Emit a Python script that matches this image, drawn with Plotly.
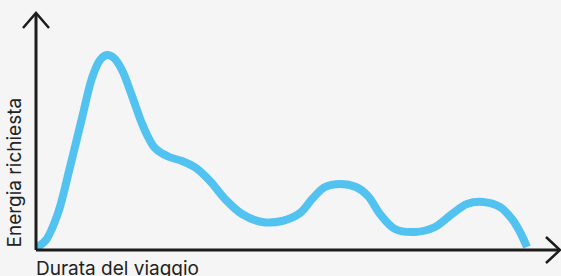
import plotly.graph_objects as go

# Data (time in % of trip, energy in % of axis height)
durata = [0, 1.91, 4.21, 6.50, 8.80, 10.71, 12.24, 13.58, 14.91, 16.44, 18.36, 20.46,
          22.75, 25.24, 27.92, 30.59, 33.27, 36.14, 39.39, 43.21, 47.04, 50.48, 52.96,
          55.26, 58.13, 61.19, 63.48, 65.77, 68.64, 72.47, 76.29, 79.54, 82.41, 85.47,
          88.72, 91.01, 92.54, 93.88]
energia = [0.85, 4.24, 15.68, 35.17, 55.93, 72.88, 80.51, 82.63, 81.36, 76.27, 65.25, 52.54,
           43.22, 39.62, 37.71, 34.75, 29.24, 21.61, 15.25, 11.86, 12.29, 15.68, 22.03,
           26.69, 27.97, 26.69, 22.88, 15.25, 8.90, 7.63, 9.75, 15.25, 19.49, 20.34,
           18.22, 13.14, 7.63, 1.27]

x_title = "Durata del viaggio"
y_title = "Energia richiesta"

W, H = 561, 276
ml, mr, mt, mb = 36, 2, 14, 26
pw, ph = W - ml - mr, H - mt - mb

fig = go.Figure()
fig.add_trace(go.Scatter(
    x=durata, y=energia, mode="lines",
    line=dict(color="#52c2f0", width=8, shape="spline", smoothing=1.0),
    hoverinfo="skip", showlegend=False, cliponaxis=False,
))

axis_col = "#1c1c1c"
def px(dx):
    return dx / pw
def py(dy):
    return dy / ph

shapes = [
    dict(type="line", xref="paper", yref="paper", x0=0, y0=0, x1=0, y1=1 - py(1),
         line=dict(color=axis_col, width=3)),
    dict(type="line", xref="paper", yref="paper", x0=0, y0=0, x1=1 + px(1), y1=0,
         line=dict(color=axis_col, width=3)),
    dict(type="path", xref="paper", yref="paper",
         path=f"M {px(-13)} {1 - py(14)} L 0 {1 + py(1)} L {px(13)} {1 - py(14)}",
         line=dict(color=axis_col, width=2.5)),
    dict(type="path", xref="paper", yref="paper",
         path=f"M {1 - px(13)} {py(13)} L {1 + px(1)} 0 L {1 - px(13)} {py(-13)}",
         line=dict(color=axis_col, width=2.5)),
]

font = dict(family="Inter, Liberation Sans, Arial", size=19, color="#222222")
annotations = [
    dict(text=x_title, xref="paper", yref="paper", x=0, y=0, xanchor="left", yanchor="top",
         xshift=-2, yshift=-5, showarrow=False, font=font),
    dict(text=y_title, xref="paper", yref="paper", x=0, y=0, xanchor="right", yanchor="bottom",
         xshift=-9, yshift=1, textangle=-90, showarrow=False, font=font),
]

fig.update_layout(
    width=W, height=H,
    margin=dict(l=ml, r=mr, t=mt, b=mb, pad=0),
    paper_bgcolor="#f5f5f5", plot_bgcolor="#f5f5f5",
    xaxis=dict(range=[0, 100], visible=False, fixedrange=True),
    yaxis=dict(range=[0, 100], visible=False, fixedrange=True),
    shapes=shapes, annotations=annotations,
)

fig.write_html(
    "out.html",
    config={"displayModeBar": False},
    post_script="document.body.style.margin='0';document.body.style.background='#f5f5f5';",
)
